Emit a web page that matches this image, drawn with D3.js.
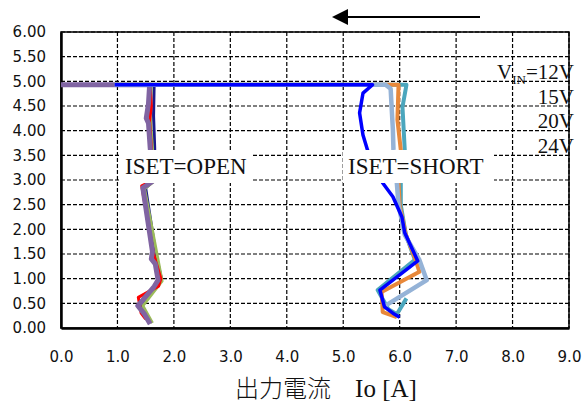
<!DOCTYPE html>
<html>
<head>
<meta charset="utf-8">
<script src="https://cdn.jsdelivr.net/npm/d3@7"></script>
<style>
  body { margin: 0; background: #fff; }
</style>
</head>
<body>
<svg id="chart"></svg>
<script>
// tick values
const xTicks = [0, 1, 2, 3, 4, 5, 6, 7, 8, 9]
const yTicks = [0, 0.5, 1, 1.5, 2, 2.5, 3, 3.5, 4, 4.5, 5, 5.5, 6]
const vinLabels = ['12V', '15V', '20V', '24V']

// ISET=OPEN curves  [Io (A), Vo (V)]
const openNavy = [[0, 4.93], [1.65, 4.93], [1.64, 4.30], [1.66, 3.65], [1.66, 3.00], [1.50, 2.84], [1.68, 1.50], [1.78, 1.00], [1.66, 0.85], [1.40, 0.45], [1.58, 0.10]]
const openGreen = [[0, 4.93], [1.60, 4.93], [1.58, 4.30], [1.62, 3.65], [1.65, 2.98], [1.48, 2.82], [1.70, 1.50], [1.79, 0.95], [1.45, 0.45], [1.62, 0.10]]
const openRed = [[0, 4.93], [1.58, 4.93], [1.60, 4.50], [1.57, 4.20], [1.60, 3.65], [1.64, 3.00], [1.43, 2.88], [1.64, 1.50], [1.77, 1.00], [1.73, 0.85], [1.37, 0.62], [1.42, 0.30], [1.50, 0.18]]
const openPurple = [[0, 4.93], [1.57, 4.93], [1.55, 4.55], [1.51, 4.25], [1.55, 4.15], [1.58, 3.65], [1.63, 2.98], [1.45, 2.84], [1.62, 1.55], [1.60, 1.40], [1.67, 1.30], [1.72, 0.97], [1.65, 0.84], [1.36, 0.45], [1.48, 0.28], [1.58, 0.08]]

// ISET=SHORT curves
const shortTeal = [[0.95, 4.93], [6.12, 4.93], [6.05, 4.48], [6.09, 3.61], [6.02, 2.94], [6.02, 2.49], [6.11, 1.89], [6.27, 1.38], [5.61, 0.77], [5.80, 0.38], [5.95, 0.28], [6.12, 0.60]]
const shortOrange = [[0.95, 4.93], [5.98, 4.93], [5.96, 4.22], [6.02, 3.61], [5.98, 2.94], [6.00, 2.49], [6.11, 1.89], [6.27, 1.42], [6.35, 1.14], [5.68, 0.73], [5.70, 0.32], [5.95, 0.22]]
const shortSteel = [[0.95, 4.93], [5.75, 4.93], [5.84, 4.85], [5.88, 4.01], [5.89, 3.61], [5.95, 2.94], [5.98, 2.49], [6.09, 1.89], [6.35, 1.38], [6.48, 0.97], [5.77, 0.47], [5.72, 0.45]]
const shortBlue = [[0.95, 4.93], [5.52, 4.93], [5.35, 4.76], [5.29, 4.36], [5.35, 3.91], [5.43, 3.61], [5.70, 2.94], [5.88, 2.66], [6.04, 2.25], [6.09, 1.93], [6.32, 1.36], [5.65, 0.77], [5.73, 0.43], [5.88, 0.30], [6.00, 0.22]]

const series = [
  {data: openNavy, color: '#1a1a8c', w: 3},
  {data: openGreen, color: '#9bbb59', w: 3},
  {data: openRed, color: '#ff0000', w: 3},
  {data: openPurple, color: '#8064a2', w: 5},
  {data: shortTeal, color: '#4ba6bd', w: 4},
  {data: shortOrange, color: '#e8883a', w: 4},
  {data: shortSteel, color: '#95b3d7', w: 4.5},
  {data: shortBlue, color: '#0000ff', w: 3.5}
]

const width = 583
const height = 403
const margin = {left: 61, top: 32, right: 14, bottom: 75}

const svg = d3.select('#chart')
  .attr('width', width)
  .attr('height', height)

const xScale = d3.scaleLinear()
  .domain([0, 9])
  .range([margin.left, width - margin.right - 0])

const yScale = d3.scaleLinear()
  .domain([0, 6])
  .range([height - margin.bottom, margin.top])

// dashed grid
svg.append('g')
  .selectAll('line')
  .data(xTicks.slice(1))
  .enter()
  .append('line')
  .attr('x1', d => xScale(d)).attr('x2', d => xScale(d))
  .attr('y1', yScale(6)).attr('y2', yScale(0))
  .attr('stroke', '#000').attr('stroke-width', 1.2)
  .attr('stroke-dasharray', '4,2')

svg.append('g')
  .selectAll('line')
  .data(yTicks.slice(1))
  .enter()
  .append('line')
  .attr('x1', xScale(0)).attr('x2', xScale(9))
  .attr('y1', d => yScale(d)).attr('y2', d => yScale(d))
  .attr('stroke', '#000').attr('stroke-width', 1.2)
  .attr('stroke-dasharray', '4,2')

// frame
svg.append('rect')
  .attr('x', xScale(0)).attr('y', yScale(6))
  .attr('width', xScale(9) - xScale(0))
  .attr('height', yScale(0) - yScale(6))
  .attr('fill', 'none').attr('stroke', '#000').attr('stroke-width', 1.5)

// axes
const xAxis = svg.append('g')
  .attr('transform', `translate(0,${yScale(0)})`)
  .call(d3.axisBottom(xScale).tickValues(xTicks).tickSize(0).tickPadding(23).tickFormat(d3.format('.1f')))
const yAxis = svg.append('g')
  .attr('transform', `translate(${xScale(0)},0)`)
  .call(d3.axisLeft(yScale).tickValues(yTicks).tickSize(0).tickPadding(15).tickFormat(d3.format('.2f')))

for (const ax of [xAxis, yAxis]) {
  ax.select('.domain').attr('stroke', '#000').attr('stroke-width', 2.5)
  ax.selectAll('text')
    .attr('font-family', 'DejaVu Sans')
    .attr('font-size', 15)
    .attr('fill', '#111')
}

// curves
const line = d3.line()
  .x(d => xScale(d[0]))
  .y(d => yScale(d[1]))

svg.append('g')
  .selectAll('path')
  .data(series)
  .enter()
  .append('path')
  .attr('d', d => line(d.data))
  .attr('fill', 'none')
  .attr('stroke', d => d.color)
  .attr('stroke-width', d => d.w)
  .attr('stroke-linejoin', 'round')

// label boxes, they hide the curves behind them
const labels = [
  {text: 'ISET=OPEN', x: 125, x0: 120, x1: 252},
  {text: 'ISET=SHORT', x: 348, x0: 343, x1: 494}
]
svg.append('g')
  .selectAll('rect')
  .data(labels)
  .enter()
  .append('rect')
  .attr('x', d => d.x0)
  .attr('y', 150)
  .attr('width', d => d.x1 - d.x0)
  .attr('height', 33)
  .attr('fill', '#fff')

svg.append('g')
  .selectAll('text')
  .data(labels)
  .enter()
  .append('text')
  .attr('x', d => d.x)
  .attr('y', 174)
  .attr('font-family', 'Liberation Serif')
  .attr('font-size', 23)
  .attr('fill', '#111')
  .text(d => d.text)

// VIN labels
const vin = svg.append('g')
  .attr('font-family', 'Liberation Serif')
  .attr('font-size', 21)
  .attr('fill', '#111')
  .attr('text-anchor', 'end')

vinLabels.forEach((lab, i) => {
  const t = vin.append('text')
    .attr('x', 574)
    .attr('y', 79 + i * 24.7)
  if (i === 0) {
    t.append('tspan').text('V')
    t.append('tspan').attr('font-size', 13).attr('dy', 5).text('IN')
    t.append('tspan').attr('dy', -5).text('=' + lab)
  } else {
    t.text(lab)
  }
})

// arrow
svg.append('defs').append('marker')
  .attr('id', 'head')
  .attr('viewBox', '0 0 10 10')
  .attr('refX', 1).attr('refY', 5)
  .attr('markerWidth', 8).attr('markerHeight', 8)
  .attr('markerUnits', 'userSpaceOnUse')
  .attr('orient', 'auto')
  .append('path')
  .attr('d', 'M0,5 L10,0 L10,10 Z')
  .attr('fill', '#000')

svg.append('path')
  .attr('d', 'M480,17 L346,17')
  .attr('stroke', '#000')
  .attr('stroke-width', 2.2)

svg.append('path')
  .attr('d', 'M332,17 L348,9 L348,25 Z')
  .attr('fill', '#000')

// x axis title
const title = svg.append('text')
  .attr('x', 326)
  .attr('y', 397)
  .attr('text-anchor', 'middle')
  .attr('fill', '#111')
title.append('tspan')
  .attr('font-family', 'Noto Sans CJK JP')
  .attr('font-size', 24)
  .attr('font-weight', 300)
  .text('出力電流　')
title.append('tspan')
  .attr('font-family', 'Liberation Serif')
  .attr('font-size', 25)
  .text('Io [A]')
</script>
</body>
</html>
